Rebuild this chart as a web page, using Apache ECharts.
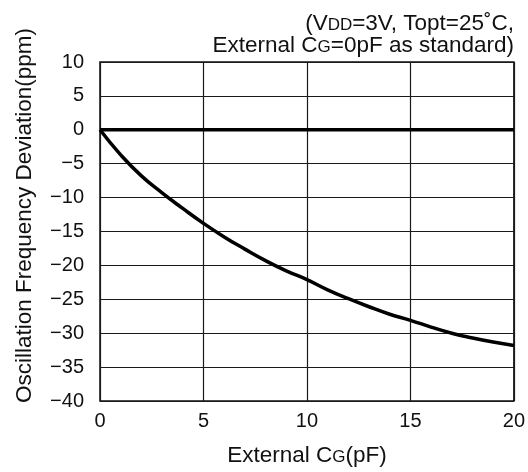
<!DOCTYPE html>
<html>
<head>
<meta charset="utf-8">
<script src="https://cdn.jsdelivr.net/npm/echarts@6/dist/echarts.min.js"></script>
<style>html,body{margin:0;padding:0;background:#fff}#c{width:528px;height:472px}</style>
</head>
<body>
<div id="c"></div>
<script>
var capValues = [0,1,2,3,4,5,6,7,8,9,10,11,12,13,14,15,16,17,18,19,20];
var deviation = [0,-3.7,-6.8,-9.3,-11.6,-13.8,-15.8,-17.6,-19.3,-20.8,-22.1,-23.6,-24.9,-26.1,-27.2,-28.1,-29.1,-30.0,-30.7,-31.3,-31.8];
var referenceLine = [[0,0],[20,0]];
var yTicks = [10,5,0,-5,-10,-15,-20,-25,-30,-35,-40];
var xTicks = [0,5,10,15,20];

var FONT = '"Liberation Sans", Arial, Helvetica, sans-serif';
var FS = 20, FN = 22.5, FSS = 17;
var chart = echarts.init(document.getElementById('c'), null, {renderer:'canvas'});
var curve = capValues.map(function(x,i){return [x, deviation[i]];});
var lineCol = '#1a1a1a';
var richG = {n:{fontSize:FN,fontFamily:FONT,color:'#111'},s:{fontSize:FSS,fontFamily:FONT,color:'#111',padding:[4,0,0,0]}};
var richT = {n:{fontSize:FN,fontFamily:FONT,fill:'#111'},s:{fontSize:FSS,fontFamily:FONT,fill:'#111',padding:[4,0,0,0]}};
chart.setOption({
  animation:false,
  backgroundColor:'#fff',
  textStyle:{fontFamily:FONT},
  grid:{left:100,right:13,top:62,bottom:68,show:true,borderColor:'#111',borderWidth:1.5},
  graphic:[
    {type:'text',right:14,top:12,style:{text:'{n|(V}{s|DD}{n|=3V, Topt=25˚C,}',rich:richT,fill:'#111'}},
    {type:'text',right:14,top:34,style:{text:'{n|External C}{s|G}{n|=0pF as standard)}',rich:richT,fill:'#111'}}
  ],
  xAxis:{
    type:'value',min:0,max:20,interval:5,
    name:'{n|External C}{s|G}{n|(pF)}',nameLocation:'middle',nameGap:43,
    nameTextStyle:{rich:richG},
    axisLine:{show:false},axisTick:{show:false},
    axisLabel:{fontSize:FS,color:'#111',margin:10,fontFamily:FONT},
    splitLine:{show:true,lineStyle:{color:lineCol,width:1.2}}
  },
  yAxis:{
    type:'value',min:-40,max:10,interval:5,
    name:'Oscillation Frequency Deviation(ppm)',nameLocation:'middle',nameGap:64,nameRotate:90,
    nameTextStyle:{fontSize:FN,fontFamily:FONT,color:'#111',padding:[0,0,0,32]},
    axisLine:{show:false},axisTick:{show:false},
    axisLabel:{fontSize:FS,color:'#111',margin:16,fontFamily:FONT,formatter:function(v){return String(v).replace('-','\u2212');}},
    splitLine:{show:true,lineStyle:{color:lineCol,width:1.2}}
  },
  series:[
    {type:'line',data:referenceLine,showSymbol:false,symbol:'none',lineStyle:{color:'#000',width:3.5},z:3},
    {type:'line',data:curve,smooth:true,showSymbol:false,symbol:'none',lineStyle:{color:'#000',width:3.5},z:4}
  ]
});
</script>
</body>
</html>
